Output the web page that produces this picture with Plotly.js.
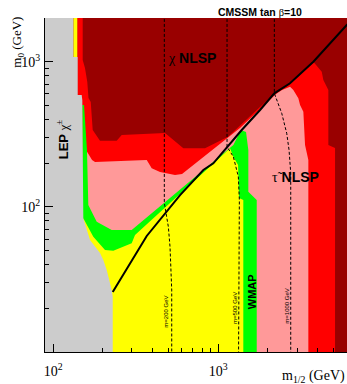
<!DOCTYPE html>
<html>
<head>
<meta charset="utf-8">
<script src="https://cdn.plot.ly/plotly-3.0.1.min.js"></script>
<style>html,body{margin:0;padding:0;background:#fff;}#chart{width:347px;height:384px;}</style>
</head>
<body>
<div id="chart"></div>
<script>
// Region boundaries (m_1/2 in GeV, m_0 in GeV)
const redX  = [139.9,150.8,150.8,155.7,160.8,163.5,168.7,173.4,192.0,242.3,259.9,475.7,614.2,831,1146,1557,2207,2721,3768,4236,4332,4645,4645,5100,5100,139.9];
const redY  = [2500,2500,1027,904.6,724.6,562.1,527.6,338.2,285.5,285.5,312.6,322.6,253.2,253.2,304.2,422.6,608.5,709.8,1000,853,748,638.3,266.7,254.3,8,8];

const pinkX = [157.9,171.8,179.1,368.5,395.1,443.6,546.8,603.0,1354,2239,2434,2721,2850,3056,3130,3277,3356,3514,3514,157.9];
const pinkY = [246.4,210.2,203.7,210.2,184.3,173.8,165.7,168.4,349.3,599.1,638.3,672.5,638.3,559.5,503.0,452.4,266.7,210.2,8,8];

const greenX = [150.0,153.6,160.1,163.1,183.4,226.1,298.8,1234,1373,1473,1521,1521,1710,1710,150.0];
const greenY = [503.0,503.0,246.4,103.0,79.0,69.25,69.25,266.7,338.2,327.8,246.4,127.2,111.5,8,8];

const yellowX = [152.1,174.9,205.9,231.2,298.8,312.9,1178,1234,1318,1323,1336,1418,1418,152.1];
const yellowY = [83.4,62.3,50.4,49.9,56.1,64.0,253.2,221.5,194.2,161.3,115.1,111.5,8,8];

const yellowTopX = [132.3,139.9,139.9,132.3];
const yellowTopY = [2500,2500,1077,1077];

const grayX = [80,132.3,132.3,140.7,140.7,148.7,150.0,152.1,167.0,192.0,201.1,210.8,226.1,229.3,229.3,80];
const grayY = [2500,2500,1077,1077,589.6,589.6,544.8,83.4,59.1,48.1,43.0,36.7,26.7,24,8,8];

// Black solid contour
const lineX = [229.3,298.8,368.5,586.6,811.8,933.3,1178,1387,1791,2186,2721,3768,6003,6500];
const lineY = [25.9,43.0,63.0,120.6,179.4,199.5,274.0,338.2,464.8,605.7,709.8,1000,1789,1950];

// Dashed contours
const m200X = [471.0,471.0,498.1,510.0,522.3,522.3];
const m200Y = [2500,106.3,73.0,53.1,26.7,8];
const m500X = [1130,1130,1234,1323,1342,1330,1326];
const m500Y = [2500,259.6,221.5,161.3,111.5,43.0,8];
const m1000X = [2186,2186,2424,2599,2684,2748,2748];
const m1000Y = [2500,605.7,441.0,321.1,246.4,171.1,8];

const xMajor = [100,1000];
const xMajorText = ['10<sup>2</sup>','10<sup>3</sup>'];
const xMinor = [200,300,400,500,600,700,800,900,2000,3000,4000,5000,6000];
const yMajor = [100,1000];
const yMajorText = ['10<sup>2</sup>','10<sup>3</sup>'];
const yMinor = [20,30,40,50,60,70,80,90,200,300,400,500,600,700,800,900,2000];

const C = {dark:'#990000', red:'#ff0000', pink:'#ff9999', green:'#00ff00', yellow:'#ffff00', gray:'#cccccc'};

function region(x,y,color){
  return {x:x,y:y,type:'scatter',mode:'lines',fill:'toself',fillcolor:color,line:{width:0,color:color},hoverinfo:'skip'};
}
function curve(x,y,dash,w){
  return {x:x,y:y,type:'scatter',mode:'lines',line:{color:'#000',width:w,dash:dash},hoverinfo:'skip'};
}

const traces = [
  region(redX,redY,C.red),
  region(pinkX,pinkY,C.pink),
  region(greenX,greenY,C.green),
  region(yellowX,yellowY,C.yellow),
  region(yellowTopX,yellowTopY,C.yellow),
  region(grayX,grayY,C.gray),
  curve(m200X,m200Y,'3px,2px',1),
  curve(m500X,m500Y,'3px,2px',1),
  curve(m1000X,m1000Y,'3px,2px',1),
  curve(lineX,lineY,'solid',2)
];

const serif = 'Liberation Serif, Times New Roman, serif';
const sans = 'Liberation Sans, Arial, sans-serif';

function ann(text,x,y,size,opts){
  return Object.assign({text:text,xref:'paper',yref:'paper',x:x,y:y,showarrow:false,
    xanchor:'center',yanchor:'middle',font:{family:sans,size:size,color:'#000'}},opts||{});
}

const layout = {
  width:347,height:384,
  margin:{l:45,r:0,t:18,b:32,pad:0},
  paper_bgcolor:'#ffffff',
  plot_bgcolor:C.dark,
  showlegend:false,
  xaxis:{type:'log',range:[1.95,3.78],showgrid:false,zeroline:false,
    showline:true,linecolor:'#000',linewidth:1,mirror:false,
    ticks:'inside',ticklen:8,tickcolor:'#000',tickmode:'array',tickvals:xMajor,ticktext:xMajorText,
    ticklabelstandoff:6,
    tickfont:{family:serif,size:14,color:'#000'},
    minor:{ticks:'inside',ticklen:4,tickcolor:'#000',tickmode:'array',tickvals:xMinor,showgrid:false}},
  yaxis:{type:'log',range:[1.0,3.301],showgrid:false,zeroline:false,
    showline:true,linecolor:'#000',linewidth:1,mirror:false,
    ticks:'inside',ticklen:8,tickcolor:'#000',tickmode:'array',tickvals:yMajor,ticktext:yMajorText,
    ticklabelstandoff:1,
    tickfont:{family:serif,size:14,color:'#000'},
    minor:{ticks:'inside',ticklen:4,tickcolor:'#000',tickmode:'array',tickvals:yMinor,showgrid:false}},
  annotations:[
    ann('<b>CMSSM tan </b><span style="font-family:Liberation Serif">β</span><b>=10</b>',0.712,1.019,10.5,{yanchor:'middle'}),
    ann('<span style="font-family:Liberation Serif">χ</span> <b>NLSP</b>',0.4858,0.8793,14),
    ann('<span style="font-family:Liberation Serif">τ̃</span> <b>NLSP</b>',0.8305,0.523,14),
    ann('<b>LEP </b><span style="font-family:Liberation Serif">χ<sup>±</sup></span>',0.0553,0.636,13,{textangle:-90}),
    ann('<b>WMAP</b>',0.6844,0.181,11,{textangle:-90}),
    ann('m=200 GeV',0.4007,0.1207,6,{textangle:-90}),
    ann('m=500 GeV',0.629,0.1317,6,{textangle:-90}),
    ann('m=1000 GeV',0.8003,0.1377,6,{textangle:-90}),
    ann('m<sub>0</sub> (GeV)',-0.0894,0.926,13,{textangle:-90,font:{family:serif,size:13,color:'#000'}}),
    ann('m<sub>1/2</sub> (GeV)',1.0,-0.072,14,{xanchor:'right',font:{family:serif,size:14,color:'#000'}})
  ]
};

Plotly.newPlot('chart',traces,layout,{staticPlot:true,displayModeBar:false});
</script>
</body>
</html>
